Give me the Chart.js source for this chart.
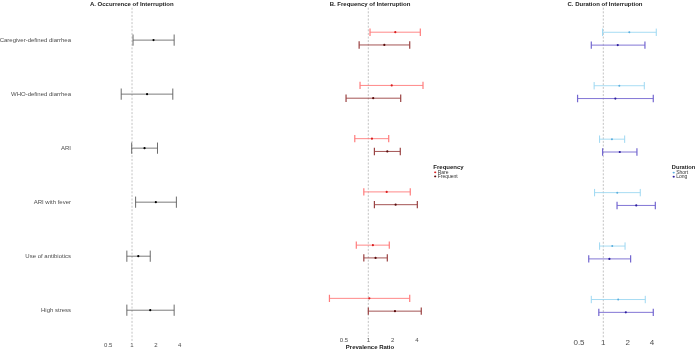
<!DOCTYPE html>
<html><head><meta charset="utf-8">
<script src="https://cdn.jsdelivr.net/npm/chart.js@4"></script>
<style>
html,body{margin:0;padding:0;background:#fff;overflow:hidden;width:696px;height:349px;}
.p{position:absolute;top:0;}
canvas{display:block;}
</style></head><body>
<div class="p" style="left:0px"><canvas id="cA" width="195" height="349"></canvas></div>
<div class="p" style="left:300px"><canvas id="cB" width="170" height="351"></canvas></div>
<div class="p" style="left:540px"><canvas id="cC" width="156" height="349"></canvas></div>
<script>
// ---------- data ----------
const categories = ["Caregiver-defined diarrhea","WHO-defined diarrhea","ARI","ARI with fever","Use of antibiotics","High stress"];
const tickValues = [0.5, 1, 2, 4];

// A. Occurrence of interruption
const occEst = [1.87, 1.55, 1.44, 2.00, 1.20, 1.70];
const occLo  = [1.03, 0.73, 0.99, 1.11, 0.86, 0.86];
const occHi  = [3.41, 3.28, 2.10, 3.64, 1.70, 3.41];

// B. Frequency of interruption
const rareEst = [2.16, 1.95, 1.11, 1.69, 1.14, 1.03];
const rareLo  = [1.05, 0.79, 0.68, 0.88, 0.71, 0.33];
const rareHi  = [4.41, 4.76, 1.79, 3.31, 1.82, 3.26];
const freqEst = [1.58, 1.15, 1.72, 2.18, 1.23, 2.14];
const freqLo  = [0.77, 0.53, 1.19, 1.19, 0.88, 1.00];
const freqHi  = [3.26, 2.52, 2.49, 4.05, 1.72, 4.53];

// C. Duration of interruption
const shortEst = [2.10, 1.58, 1.28, 1.49, 1.29, 1.53];
const shortLo  = [0.98, 0.77, 0.90, 0.78, 0.90, 0.71];
const shortHi  = [4.53, 3.22, 1.84, 2.87, 1.86, 3.31];
const longEst  = [1.51, 1.41, 1.60, 2.56, 1.19, 1.90];
const longLo   = [0.71, 0.48, 0.98, 1.48, 0.66, 0.88];
const longHi   = [3.28, 4.16, 2.61, 4.41, 2.18, 4.16];

// ---------- helpers ----------
const FONT = "'Liberation Sans', Arial, Helvetica, sans-serif";
Chart.defaults.font.family = FONT;

function ciData(lo, hi, off){
  const d = [];
  lo.forEach((l, i) => { d.push({x:l, y:i+off}, {x:hi[i], y:i+off}, {x:1, y:null}); });
  return d;
}
function estData(est, off){ return est.map((v, i) => ({x:v, y:i+off})); }

function seriesDatasets(s){
  return {
    est: {label:s.label, legendKey:true, legendColor:s.pointColor, data: estData(s.est, s.off), showLine:false,
      pointStyle:'circle', pointRadius:s.dot, pointBackgroundColor:s.pointColor, pointBorderWidth:0, pointHoverRadius:s.dot},
    ci: {label:s.label+' CI', data: ciData(s.lo, s.hi, s.off), borderColor:s.lineColor, borderWidth:s.lw,
      spanGaps:false, pointStyle:'line', pointRotation:90, pointRadius:s.capR, pointHoverRadius:s.capR,
      pointBorderColor:s.lineColor, pointBackgroundColor:s.lineColor, pointBorderWidth:s.capW}
  };
}

const refLine = {
  id:'refLine',
  beforeDatasetsDraw(chart){
    const {ctx, chartArea:a} = chart; const x = chart.scales.x.getPixelForValue(1);
    ctx.save(); ctx.strokeStyle = '#9a9a9a'; ctx.lineWidth = 0.6; ctx.setLineDash([2,1.6]);
    ctx.beginPath(); ctx.moveTo(x, a.top); ctx.lineTo(x, a.bottom); ctx.stroke(); ctx.restore();
  }
};

const seriesLegend = {
  id:'seriesLegend',
  afterDraw(chart, args, opts){
    if(!opts || !opts.title) return;
    const ctx = chart.ctx; ctx.save();
    ctx.textBaseline = 'middle'; ctx.textAlign = 'left';
    ctx.fillStyle = '#1a1a1a'; ctx.font = 'bold ' + (opts.titleSize || 6) + 'px ' + FONT;
    ctx.fillText(opts.title, opts.x, opts.y);
    const items = chart.data.datasets.filter(d => d.legendKey);
    ctx.font = '5px ' + FONT;
    items.forEach((d, i) => {
      const yy = opts.y + 5 + i*4.1;
      ctx.strokeStyle = d.legendColor; ctx.lineWidth = 0.6;
      ctx.beginPath(); ctx.moveTo(opts.x + 0.8, yy); ctx.lineTo(opts.x + 3.0, yy); ctx.stroke();
      ctx.fillStyle = d.legendColor;
      ctx.beginPath(); ctx.arc(opts.x + 1.9, yy, 0.9, 0, Math.PI*2); ctx.fill();
      ctx.fillStyle = '#333333';
      ctx.fillText(d.label, opts.x + 4.4, yy);
    });
    ctx.restore();
  }
};

function makeChart(id, p){
  const sets = p.series.map(seriesDatasets);
  const datasets = sets.map(s => s.est).concat(sets.map(s => s.ci));
  return new Chart(document.getElementById(id), {
    type:'line',
    data:{datasets},
    options:{
      responsive:false, devicePixelRatio:1, animation:false,
      events:[],
      layout:{padding:p.padding},
      plugins:{
        legend:{display:false}, tooltip:{enabled:false},
        title:{display:true, text:p.title, fullSize:false, color:'#1a1a1a',
          font:{size:6, weight:'bold', lineHeight:1.2}, padding:{top:0.5, bottom:0}},
        seriesLegend: p.legend || {}
      },
      scales:{
        x:{type:'logarithmic', min:p.xmin, max:p.xmax, bounds:'data',
          grid:{display:false, drawTicks:false}, border:{display:false},
          afterBuildTicks: s => { s.ticks = tickValues.map(v => ({value:v})); },
          afterFit: s => { s.height = p.xh; },
          ticks:{callback: v => String(v), font:{size:p.tickSize, lineHeight:1.2}, color:'#4d4d4d',
            padding:p.tickPad, maxRotation:0, autoSkip:false},
          title:{display:!!p.xTitle, text:p.xTitle || '', color:'#1a1a1a',
            font:{size:6, weight:'bold', lineHeight:1.2}, padding:0}
        },
        y:{type:'linear', reverse:true, min:p.ymin, max:p.ymax, bounds:'data', display:!!p.yLabels,
          grid:{display:false, drawTicks:false}, border:{display:false},
          afterBuildTicks: s => { s.ticks = categories.map((c, i) => ({value:i})); },
          afterFit: s => { if (p.yLabels) s.width = p.yw; },
          ticks:{callback: v => categories[v], font:{size:6}, color:'#4d4d4d', padding:4, autoSkip:false}
        }
      }
    },
    plugins:[refLine, seriesLegend]
  });
}

makeChart('cA', {
  title:'A. Occurrence of Interruption', padding:{left:0, right:4, top:0, bottom:0},
  xmin:0.19, xmax:5.18, xh:8, tickSize:6, tickPad:1, yLabels:true, yw:75, ymin:-0.6, ymax:5.57,
  series:[{label:'Occurrence', est:occEst, lo:occLo, hi:occHi, off:0,
    lineColor:'#5a5a5a', pointColor:'#000000', lw:0.8, capR:5.6, capW:0.9, dot:1.1}]
});

makeChart('cB', {
  title:'B. Frequency of Interruption', padding:{left:15, right:45, top:0, bottom:0},
  xmin:0.2186, xmax:5.04, xh:14.3, tickSize:6, tickPad:0, xTitle:'Prevalence Ratio', ymin:-0.58, ymax:5.6,
  legend:{title:'Frequency', x:133.3, y:167.3},
  series:[
    {label:'Rare', est:rareEst, lo:rareLo, hi:rareHi, off:-0.12,
      lineColor:'#ff7c7c', pointColor:'#d81f1f', lw:0.9, capR:3.7, capW:1.2, dot:1.1},
    {label:'Frequent', est:freqEst, lo:freqLo, hi:freqHi, off:0.12,
      lineColor:'#9a4242', pointColor:'#5a0c0c', lw:0.9, capR:3.7, capW:1.2, dot:1.1}
  ]
});

makeChart('cC', {
  title:'C. Duration of Interruption', padding:{left:10, right:36, top:0, bottom:0},
  xmin:0.2186, xmax:5.04, xh:11, tickSize:8, tickPad:0, ymin:-0.58, ymax:5.6,
  legend:{title:'Duration', titleSize:5.7, x:131.8, y:167.6},
  series:[
    {label:'Short', est:shortEst, lo:shortLo, hi:shortHi, off:-0.12,
      lineColor:'#9dd8f2', pointColor:'#5aaede', lw:0.9, capR:3.7, capW:1.0, dot:1.0},
    {label:'Long', est:longEst, lo:longLo, hi:longHi, off:0.12,
      lineColor:'#7467d0', pointColor:'#2c1f9c', lw:0.9, capR:3.7, capW:1.2, dot:1.1}
  ]
});
</script>
</body></html>
